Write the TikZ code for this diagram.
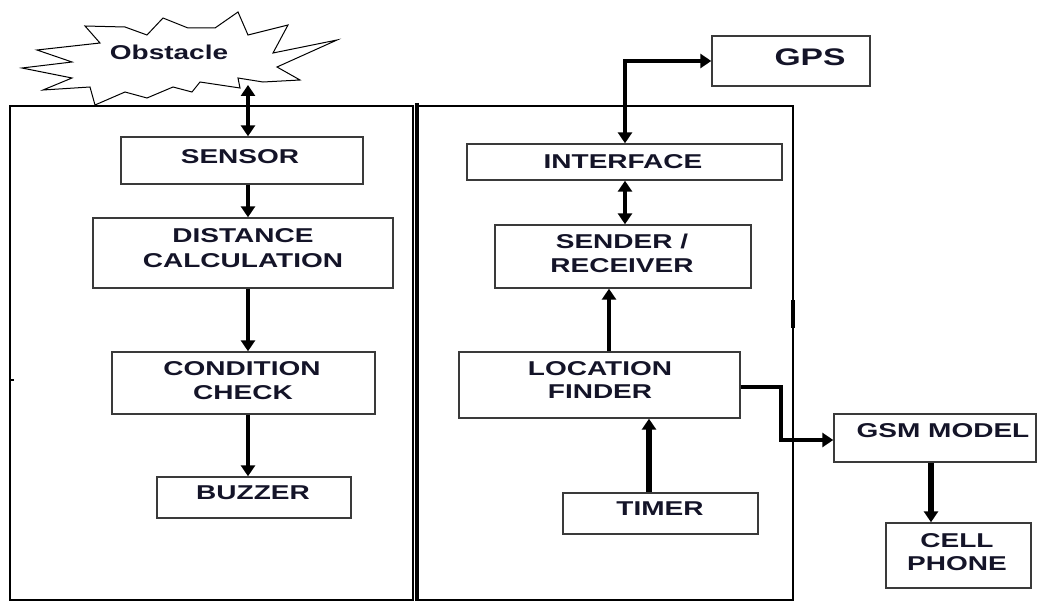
\documentclass[tikz,border=0pt]{standalone}
\usepackage{fontspec}
\usetikzlibrary{arrows.meta}
\newfontfamily\arialb{Liberation Sans}[FakeStretch=1.4]
\definecolor{txtc}{HTML}{141428}
\definecolor{boxc}{HTML}{3A3A3A}
\tikzset{
  blk/.style={draw=boxc, line width=1.4pt, fill=white, inner sep=0pt},
  txt/.style={anchor=base, inner sep=0pt, text=txtc, font=\arialb\bfseries\fontsize{20}{24}\selectfont},
  bigtxt/.style={anchor=base, inner sep=0pt, text=txtc, font=\arialb\bfseries\fontsize{24}{28}\selectfont},
  frame/.style={line width=2pt, black},
  arr/.style={line width=3.6pt, -{Triangle[width=14pt,length=11pt]}},
  darr/.style={line width=3.6pt, {Triangle[width=14pt,length=11pt]}-{Triangle[width=14pt,length=11pt]}},
}
\begin{document}
\begin{tikzpicture}[x=1pt,y=-1pt]
\useasboundingbox (0,0) rectangle (1037,602);
% frames
\draw[frame] (10,106) rectangle (413,600);
\draw[line width=4pt] (417,103) -- (417,601);
\draw[frame] (417,106) -- (793,106) -- (793,600) -- (417,600);
\draw[line width=4pt] (793,300) -- (793,328);
\draw[line width=2.5pt] (10,380) -- (14,380);
% obstacle starburst
\draw[line width=1pt, fill=white] (85,26) -- (100,43) -- (37,50) -- (72,62) -- (22,68) -- (72,78)
  -- (43,90) -- (90,87) -- (95,105) -- (125,92) -- (147,98) -- (173,87) -- (192,92) -- (200,82)
  -- (240,88) -- (238,78) -- (263,82) -- (300,80) -- (277,67) -- (337,40) -- (273,53)
  -- (288,25) -- (248,35) -- (238,12) -- (215,28) -- (188,28) -- (163,18) -- (147,35)
  -- (125,27) -- cycle;
\node[txt] (obsT) at (169,60) {Obstacle};
\coordinate (obsA) at (248,85);
% boxes left
\node[blk, minimum width=242pt, minimum height=47pt] (sensor) at (242,160.5) {};
\node[blk, minimum width=300pt, minimum height=70pt] (dist) at (243,253) {};
\node[blk, minimum width=263pt, minimum height=62pt] (cond) at (243.5,383) {};
\node[blk, minimum width=194pt, minimum height=41pt] (buzz) at (254,497.5) {};
\node[txt] (sensorT) at (240,163) {SENSOR};
\node[txt] (distT1) at (243,242) {DISTANCE};
\node[txt] (distT2) at (243,267) {CALCULATION};
\node[txt] (condT1) at (242,375) {CONDITION};
\node[txt] (condT2) at (243,399) {CHECK};
\node[txt] (buzzT) at (253,499) {BUZZER};
% boxes right
\node[blk, minimum width=158pt, minimum height=50pt] (gps) at (791,61) {};
\node[blk, minimum width=315pt, minimum height=36pt] (iface) at (624.5,162) {};
\node[blk, minimum width=256pt, minimum height=63pt] (send) at (623,256.5) {};
\node[blk, minimum width=281pt, minimum height=66pt] (loc) at (599.5,385) {};
\node[blk, minimum width=195pt, minimum height=41pt] (timer) at (660.5,513.5) {};
\node[blk, minimum width=202pt, minimum height=48pt] (gsm) at (935,438) {};
\node[blk, minimum width=145pt, minimum height=65pt] (cell) at (958.5,555.5) {};
\node[bigtxt] (gpsT) at (810,66) {GPS};
\node[txt] (ifaceT) at (623,168) {INTERFACE};
\node[txt] (sendT1) at (622,248) {SENDER /};
\node[txt] (sendT2) at (622,272) {RECEIVER};
\node[txt] (locT1) at (600,375) {LOCATION};
\node[txt] (locT2) at (600,398) {FINDER};
\node[txt] (timerT) at (660,515) {TIMER};
\node[txt] (gsmT) at (943,437) {GSM MODEL};
\node[txt] (cellT1) at (957,547) {CELL};
\node[txt] (cellT2) at (957,570) {PHONE};
% connectors left
\draw[darr] (obsA) -- (obsA |- sensor.north);
\draw[arr] (sensor.south -| obsA) -- (dist.north -| obsA);
\draw[arr] (dist.south -| obsA) -- (cond.north -| obsA);
\draw[arr] (cond.south -| obsA) -- (buzz.north -| obsA);
% connectors right
\coordinate (ix) at (625,0);
\draw[darr, line width=4pt] (iface.north -| ix) -- (ix |- gps.west) -- (gps.west);
\draw[darr, line width=4.5pt] (iface.south -| ix) -- (send.north -| ix);
\coordinate (lx) at (609,0);
\draw[arr] (loc.north -| lx) -- (send.south -| lx);
\coordinate (tx) at (649,0);
\draw[arr, line width=5.5pt] (timer.north -| tx) -- (loc.south -| tx);
\coordinate (gy) at (0,387);
\coordinate (gb) at (781,440);
\draw[arr, line width=3.5pt] (loc.east |- gy) -- (gb |- gy) -- (gb) -- (gb -| gsm.west);
\coordinate (cx) at (931,0);
\draw[arr, line width=6.5pt] (gsm.south -| cx) -- (cell.north -| cx);
\end{tikzpicture}
\end{document}
